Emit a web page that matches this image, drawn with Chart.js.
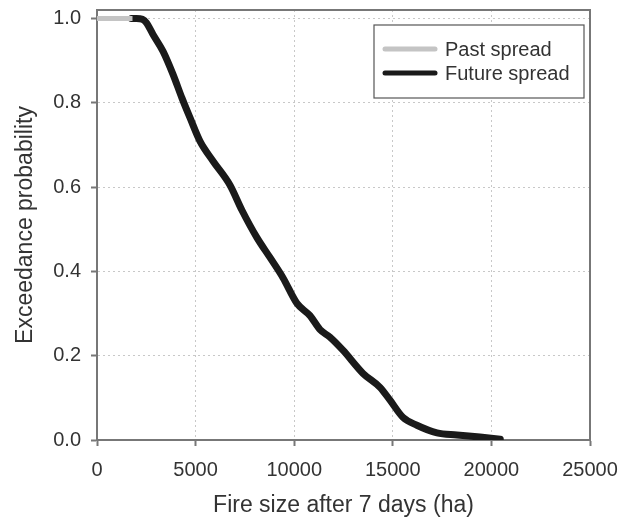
<!DOCTYPE html>
<html>
<head>
<meta charset="utf-8">
<script src="https://cdn.jsdelivr.net/npm/chart.js@4"></script>
<style>
  html, body { margin: 0; padding: 0; background: #fff; }
  #wrap { width: 627px; height: 523px; }
</style>
</head>
<body>
<div id="wrap"><canvas id="grafico"></canvas></div>
<script>
// past spread (grey) and future spread (black) exceedance curves
const pastX = [0, 1800];
const pastY = [1.0, 1.0];

const futureX = [1750, 2000, 2300, 2500, 2840, 3350, 3850, 4310, 4720, 5220, 5880, 6740, 7350, 8110, 8770, 9430, 10140, 10800, 11310, 11810, 12470, 13490, 14350, 14850, 15510, 16220, 17240, 18250, 19420, 20450];
const futureY = [1.0, 1.0, 0.998, 0.99, 0.962, 0.922, 0.868, 0.811, 0.764, 0.709, 0.662, 0.605, 0.545, 0.480, 0.433, 0.385, 0.324, 0.295, 0.262, 0.244, 0.213, 0.158, 0.125, 0.095, 0.054, 0.035, 0.017, 0.012, 0.007, 0.002];

const xTicks = [0, 5000, 10000, 15000, 20000, 25000];
const yTicks = [0.0, 0.2, 0.4, 0.6, 0.8, 1.0];

const legendLabels = ['Past spread', 'Future spread'];

function pares(xs, ys) {
    return xs.map((x, i) => ({ x: x, y: ys[i] }));
}

const fonte = 'Liberation Sans, Arial, sans-serif';
const corTexto = '#333';
const corEixo = '#777';

// frame on top and right, like the original plot box
const moldura = {
    id: 'moldura',
    beforeDatasetsDraw(chart) {
        const { ctx, chartArea: a } = chart;
        ctx.save();
        ctx.strokeStyle = corEixo;
        ctx.lineWidth = 2;
        ctx.beginPath();
        ctx.moveTo(a.left, a.top);
        ctx.lineTo(a.right, a.top);
        ctx.lineTo(a.right, a.bottom);
        ctx.stroke();
        ctx.restore();
    }
};

// legend box drawn inside the plot area
const legendaInterna = {
    id: 'legendaInterna',
    afterDraw(chart) {
        const { ctx, chartArea: a } = chart;
        const caixa = { x: a.right - 216, y: a.top + 15, w: 210, h: 73 };
        ctx.save();
        ctx.fillStyle = '#fff';
        ctx.fillRect(caixa.x, caixa.y, caixa.w, caixa.h);
        ctx.strokeStyle = '#555';
        ctx.lineWidth = 1.2;
        ctx.strokeRect(caixa.x, caixa.y, caixa.w, caixa.h);
        ctx.font = '20px ' + fonte;
        ctx.textBaseline = 'middle';
        chart.data.datasets.forEach((ds, i) => {
            const y = caixa.y + 24 + i * 24;
            ctx.strokeStyle = ds.borderColor;
            ctx.lineWidth = 5;
            ctx.lineCap = 'round';
            ctx.beginPath();
            ctx.moveTo(caixa.x + 11, y);
            ctx.lineTo(caixa.x + 61, y);
            ctx.stroke();
            ctx.fillStyle = corTexto;
            ctx.fillText(legendLabels[i], caixa.x + 71, y + 1);
        });
        ctx.restore();
    }
};

const grafico = new Chart(document.getElementById('grafico'), {
    type: 'line',
    data: {
        datasets: [{
            label: legendLabels[0],
            data: pares(pastX, pastY),
            borderColor: '#c4c4c4',
            borderWidth: 5,
            pointRadius: 0,
            tension: 0
        }, {
            label: legendLabels[1],
            data: pares(futureX, futureY),
            borderColor: '#1a1a1a',
            borderWidth: 7,
            pointRadius: 0,
            borderCapStyle: 'round',
            borderJoinStyle: 'round',
            cubicInterpolationMode: 'monotone'
        }]
    },
    options: {
        responsive: true,
        maintainAspectRatio: false,
        animation: false,
        layout: { padding: { top: 10, right: 37, left: 0, bottom: 0 } },
        plugins: {
            legend: { display: false },
            tooltip: { enabled: false }
        },
        scales: {
            x: {
                type: 'linear',
                min: 0,
                max: 25000,
                afterBuildTicks: (s) => { s.ticks = xTicks.map(v => ({ value: v })); },
                afterFit: (s) => { s.height = 83; s.paddingLeft = 0; s.paddingRight = 0; },
                ticks: {
                    color: corTexto,
                    font: { family: fonte, size: 20 },
                    padding: 12,
                    maxRotation: 0,
                    callback: (v) => String(v)
                },
                grid: {
                    color: '#c8c8c8',
                    lineWidth: 1,
                    tickColor: corEixo,
                    tickLength: 6,
                    tickWidth: 2
                },
                border: { color: corEixo, width: 2, dash: [2, 3] },
                title: {
                    display: true,
                    text: 'Fire size after 7 days (ha)',
                    color: corTexto,
                    font: { family: fonte, size: 23 },
                    padding: { top: 6 }
                }
            },
            y: {
                min: 0,
                max: 1.02,
                afterBuildTicks: (s) => { s.ticks = yTicks.map(v => ({ value: v })); },
                afterFit: (s) => { s.width = 97; s.paddingTop = 0; s.paddingBottom = 0; },
                ticks: {
                    color: corTexto,
                    font: { family: fonte, size: 20 },
                    padding: 10,
                    callback: (v) => v.toFixed(1)
                },
                grid: {
                    color: '#c8c8c8',
                    lineWidth: 1,
                    tickColor: corEixo,
                    tickLength: 6,
                    tickWidth: 2
                },
                border: { color: corEixo, width: 2, dash: [2, 3] },
                title: {
                    display: true,
                    text: 'Exceedance probability',
                    color: corTexto,
                    font: { family: fonte, size: 23 },
                    padding: { top: 12, bottom: 0 }
                }
            }
        }
    },
    plugins: [moldura, legendaInterna]
});
</script>
</body>
</html>
